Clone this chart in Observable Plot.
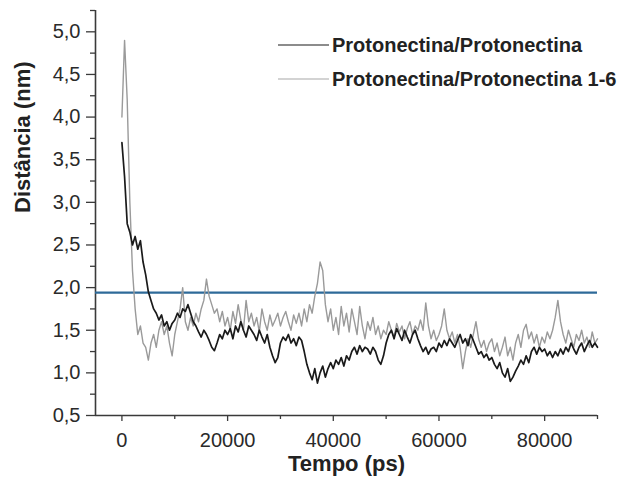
<!DOCTYPE html>
<html><head><meta charset="utf-8">
<script src="https://cdn.jsdelivr.net/npm/d3@7"></script>
<script src="https://cdn.jsdelivr.net/npm/@observablehq/plot@0.6"></script>
<style>body{margin:0;background:#fff}</style>
</head><body><div id="chart"></div>
<script>
const tStep = 500; // ps between samples
const seriesNames = ["Protonectina/Protonectina", "Protonectina/Protonectina 1-6"];
const blackSeries = [
  3.7, 3.3, 2.75, 2.65, 2.5, 2.6, 2.45, 2.55, 2.3, 2.15, 1.95, 1.85, 1.75, 1.7, 1.62, 1.68, 1.55, 1.6, 1.5, 1.58,
  1.62, 1.7, 1.65, 1.75, 1.72, 1.8, 1.7, 1.6, 1.55, 1.48, 1.42, 1.5, 1.45, 1.38, 1.3, 1.26, 1.35, 1.45, 1.4, 1.5,
  1.45, 1.52, 1.4, 1.55, 1.48, 1.6, 1.5, 1.42, 1.55, 1.5, 1.45, 1.38, 1.5, 1.42, 1.35, 1.45, 1.3, 1.2, 1.12, 1.18,
  1.35, 1.42, 1.38, 1.45, 1.35, 1.4, 1.32, 1.42, 1.38, 1.25, 1.1, 1.0, 0.92, 1.05, 0.88, 1.0, 1.08, 0.95, 1.05, 1.12,
  1.05, 1.15, 1.1, 1.18, 1.08, 1.2, 1.15, 1.25, 1.3, 1.22, 1.32, 1.25, 1.3, 1.28, 1.22, 1.3, 1.25, 1.15, 1.1, 1.2,
  1.35, 1.45, 1.5, 1.4, 1.52, 1.45, 1.38, 1.5, 1.42, 1.35, 1.45, 1.5, 1.4, 1.32, 1.25, 1.3, 1.22, 1.28, 1.3, 1.25,
  1.35, 1.3, 1.38, 1.32, 1.4, 1.35, 1.3, 1.38, 1.45, 1.35, 1.4, 1.32, 1.45, 1.38, 1.3, 1.22, 1.25, 1.18, 1.22, 1.15,
  1.18, 1.1, 1.05, 1.12, 1.0, 0.95, 1.05, 0.9, 0.95, 1.02, 1.08, 1.15, 1.1, 1.2, 1.12, 1.25, 1.3, 1.22, 1.3, 1.25,
  1.28, 1.2, 1.25, 1.18, 1.25, 1.2, 1.28, 1.22, 1.3, 1.25, 1.35, 1.28, 1.22, 1.3, 1.35, 1.25, 1.32, 1.38, 1.3, 1.35,
  1.3
];
const graySeries = [
  4.0, 4.9, 4.2, 3.0, 2.2, 1.75, 1.45, 1.55, 1.35, 1.3, 1.15, 1.35, 1.45, 1.3, 1.5, 1.6, 1.45, 1.55, 1.35, 1.2,
  1.45, 1.6, 1.75, 2.0, 1.6, 1.5, 1.65, 1.55, 1.7, 1.6, 1.75, 1.85, 2.1, 1.9, 1.8, 1.7, 1.75, 1.6, 1.72, 1.55,
  1.65, 1.5, 1.72, 1.58, 1.8, 1.62, 1.5, 1.85, 1.6, 1.7, 1.55, 1.65, 1.48, 1.75, 1.6, 1.5, 1.68, 1.55, 1.62, 1.7,
  1.55, 1.65, 1.72, 1.6, 1.5, 1.68, 1.58, 1.7, 1.55, 1.75, 1.6, 1.8, 1.7, 1.9, 2.05, 2.3, 2.2, 1.8, 1.6, 1.75,
  1.5, 1.65, 1.45, 1.78, 1.55, 1.7, 1.48, 1.75, 1.6, 1.45, 1.78, 1.55, 1.4, 1.6, 1.5, 1.65, 1.45, 1.55, 1.4, 1.5,
  1.45, 1.6, 1.5, 1.42, 1.58, 1.48, 1.55, 1.4, 1.52, 1.6, 1.45, 1.55, 1.5, 1.62, 1.5, 1.82, 1.55, 1.4, 1.5, 1.38,
  1.45, 1.55, 1.75, 1.5, 1.4, 1.48, 1.35, 1.45, 1.3, 1.05, 1.25, 1.4, 1.3, 1.45, 1.6, 1.4, 1.3, 1.38, 1.25, 1.35,
  1.4, 1.25, 1.35, 1.2, 1.3, 1.42, 1.2, 1.3, 1.15, 1.35, 1.45, 1.3, 1.5, 1.57, 1.4, 1.48, 1.35, 1.45, 1.3, 1.42,
  1.35, 1.48, 1.4, 1.5, 1.65, 1.85, 1.6, 1.45, 1.35, 1.5, 1.4, 1.3, 1.45, 1.38, 1.5, 1.35, 1.42, 1.3, 1.48, 1.35,
  1.4
];
const threshold = 1.94;
const xTicks = [0, 20000, 40000, 60000, 80000];
const xMinorTicks = [10000, 30000, 50000, 70000, 90000];
const yTicks = [0.5, 1.0, 1.5, 2.0, 2.5, 3.0, 3.5, 4.0, 4.5, 5.0];
const yMinorTicks = [0.75, 1.25, 1.75, 2.25, 2.75, 3.25, 3.75, 4.25, 4.75, 5.25];
const xLabel = "Tempo (ps)";
const yLabel = "Distância (nm)";

const blackRows = blackSeries.map((v, i) => ({t: i * tStep, v, s: seriesNames[0]}));
const grayRows = graySeries.map((v, i) => ({t: i * tStep, v, s: seriesNames[1]}));

const font = "'Liberation Sans', Arial, Helvetica, sans-serif";
const axisColor = "#3a3a3a";

const chart = Plot.plot({
  width: 625, height: 488,
  marginLeft: 95, marginRight: 28, marginTop: 10, marginBottom: 73,
  style: {fontFamily: font, color: "#2a2a2a", background: "#fff", overflow: "visible"},
  x: {domain: [-5000, 90000]},
  y: {domain: [0.5, 5.25]},
  marks: [
    Plot.axisX({ticks: xTicks, tickSize: 6, tickPadding: 11, tickFormat: d3.format("d"), fontSize: 20, label: null, stroke: axisColor, strokeWidth: 1.3}),
    Plot.axisX({ticks: xMinorTicks, tickSize: 4, tickFormat: () => "", label: null, stroke: axisColor, strokeWidth: 1.3}),
    Plot.axisY({ticks: yTicks, tickSize: 9, tickPadding: 6, tickFormat: d => d.toFixed(1).replace(".", ","), fontSize: 20, label: null, stroke: axisColor, strokeWidth: 1.3}),
    Plot.axisY({ticks: yMinorTicks, tickSize: 5, tickFormat: () => "", label: null, stroke: axisColor, strokeWidth: 1.3}),
    Plot.ruleY([0.5], {stroke: axisColor, strokeWidth: 1.6}),
    Plot.ruleX([-5000], {stroke: axisColor, strokeWidth: 1.6}),
    Plot.ruleY([threshold], {stroke: "#2e6a99", strokeWidth: 2.2}),
    Plot.line(grayRows, {x: "t", y: "v", stroke: "#9a9a9a", strokeWidth: 1.4}),
    Plot.line(blackRows, {x: "t", y: "v", stroke: "#1a1a1a", strokeWidth: 1.7}),
    Plot.text([xLabel], {frameAnchor: "bottom", dy: 55, fontSize: 22, fontWeight: "bold", fill: "#222"}),
    Plot.text([yLabel], {frameAnchor: "left", dx: -73, rotate: -90, fontSize: 22, fontWeight: "bold", fill: "#222"})
  ]
});

// legend inside the plot area
const legendColors = ["#666", "#c4c4c4"];
const svg = d3.select(chart);
const lg = svg.append("g")
  .attr("font-family", font).attr("font-size", 20).attr("font-weight", "bold")
  .attr("fill", "#222").attr("text-anchor", "start");
seriesNames.forEach((name, i) => {
  const y = 45 + i * 34;
  lg.append("line").attr("x1", 278).attr("x2", 329).attr("y1", y).attr("y2", y)
    .attr("stroke", legendColors[i]).attr("stroke-width", 1.3);
  lg.append("text").attr("x", 332).attr("y", y).attr("dy", "0.35em")
    .attr("text-anchor", "start").text(name);
});

document.getElementById("chart").appendChild(chart);
</script>
</body></html>
